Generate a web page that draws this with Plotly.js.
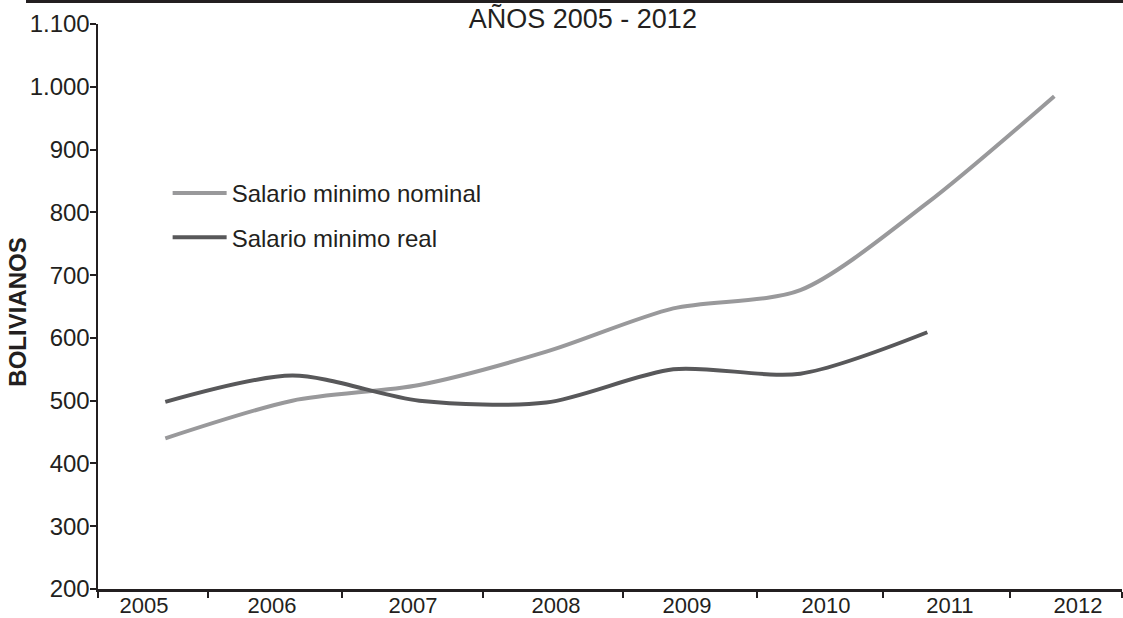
<!DOCTYPE html>
<html>
<head>
<meta charset="utf-8">
<script src="https://cdn.plot.ly/plotly-3.0.1.min.js"></script>
<style>html,body{margin:0;padding:0;background:#fff;}#chart{width:1123px;height:618px;}</style>
</head>
<body>
<div id="chart"></div>
<script>
// ---- data ----
const years = [2005, 2006, 2007, 2008, 2009, 2010, 2011, 2012];
const yearLabels = ["2005", "2006", "2007", "2008", "2009", "2010", "2011", "2012"];
const nominal = [440, 500, 525, 578, 647, 676, 815, 985];
const realYears = [2005, 2006, 2007, 2008, 2009, 2010, 2011];
const real = [498, 540, 500, 497, 550, 543, 609];
const seriesNames = ["Salario minimo nominal", "Salario minimo real"];
const yTitle = "BOLIVIANOS";
const chartTitle = "AÑOS 2005 - 2012";

// ---- layout constants ----
const FONT = "Liberation Sans, Arial, sans-serif";
const TXT = "#231f20";
const xRange = [2004.47, 2012.533];
const labelPos = [2004.832, 2005.84, 2006.95, 2008.076, 2009.108, 2010.202, 2011.178, 2012.186];
const boundaryPos = [2004.472, 2005.336, 2006.391, 2007.502, 2008.604, 2009.659, 2010.651, 2011.651, 2012.53];

const traces = [
  {x: years, y: nominal, name: seriesNames[0], type: "scatter", mode: "lines",
   line: {color: "#99999b", width: 4, shape: "spline", smoothing: 0.8},
   legendgroup: "a", xaxis: "x", yaxis: "y"},
  {x: realYears, y: real, name: seriesNames[1], type: "scatter", mode: "lines",
   line: {color: "#58585a", width: 4, shape: "spline", smoothing: 0.8},
   legendgroup: "b", xaxis: "x", yaxis: "y"},
  // invisible helper trace so the label axis is drawn
  {x: [xRange[0]], y: [null], xaxis: "x2", yaxis: "y", showlegend: false, hoverinfo: "skip", mode: "lines"}
];

const layout = {
  width: 1123, height: 618,
  margin: {l: 98, r: 1, t: 24, b: 29, pad: 0},
  paper_bgcolor: "#ffffff", plot_bgcolor: "#ffffff",
  font: {family: FONT, color: TXT, size: 24},
  separators: ",.",
  showlegend: true,
  title: {text: chartTitle, font: {family: FONT, size: 27, color: TXT},
          xref: "container", yref: "container", x: 0.519, xanchor: "center", y: 0.97, yanchor: "middle"},
  legend: {x: 0.068, y: 0.74, xanchor: "left", yanchor: "top", bgcolor: "rgba(0,0,0,0)",
           font: {family: FONT, size: 24, color: TXT}, traceorder: "grouped", tracegroupgap: 10,
           itemwidth: 54},
  xaxis: {type: "linear", range: xRange, showgrid: false, zeroline: false,
          showline: true, linecolor: TXT, linewidth: 2.5,
          tickmode: "array", tickvals: boundaryPos, ticktext: boundaryPos.map(() => ""),
          ticks: "outside", ticklen: 6, tickwidth: 2, tickcolor: TXT, showticklabels: false},
  xaxis2: {type: "linear", range: xRange, overlaying: "x", side: "bottom", anchor: "y",
           showgrid: false, zeroline: false, showline: false,
           tickmode: "array", tickvals: labelPos, ticktext: yearLabels, ticks: "", ticklen: 0,
           ticklabelstandoff: 1,
           tickfont: {family: FONT, size: 22, color: TXT}},
  yaxis: {range: [200, 1100], dtick: 100, tick0: 200, tickformat: ",d",
          showgrid: false, zeroline: false, showline: true, linecolor: TXT, linewidth: 2.5,
          ticks: "outside", ticklen: 6, tickwidth: 2, tickcolor: TXT,
          ticklabelstandoff: -5,
          tickfont: {family: FONT, size: 24, color: TXT},
          automargin: false},
  annotations: [
    {text: "<b>" + yTitle + "</b>", xref: "paper", yref: "paper", x: -0.0786, y: 0.49,
     xanchor: "center", yanchor: "middle", textangle: -90, showarrow: false,
     font: {family: FONT, size: 24, color: TXT}}
  ],
  shapes: [
    {type: "rect", xref: "paper", yref: "paper", x0: -0.0703, x1: 1.001, y0: 1.037, y1: 1.045,
     fillcolor: "#231f20", line: {width: 0}, layer: "above"}
  ]
};

Plotly.newPlot("chart", traces, layout, {displayModeBar: false, staticPlot: true});
</script>
</body>
</html>
